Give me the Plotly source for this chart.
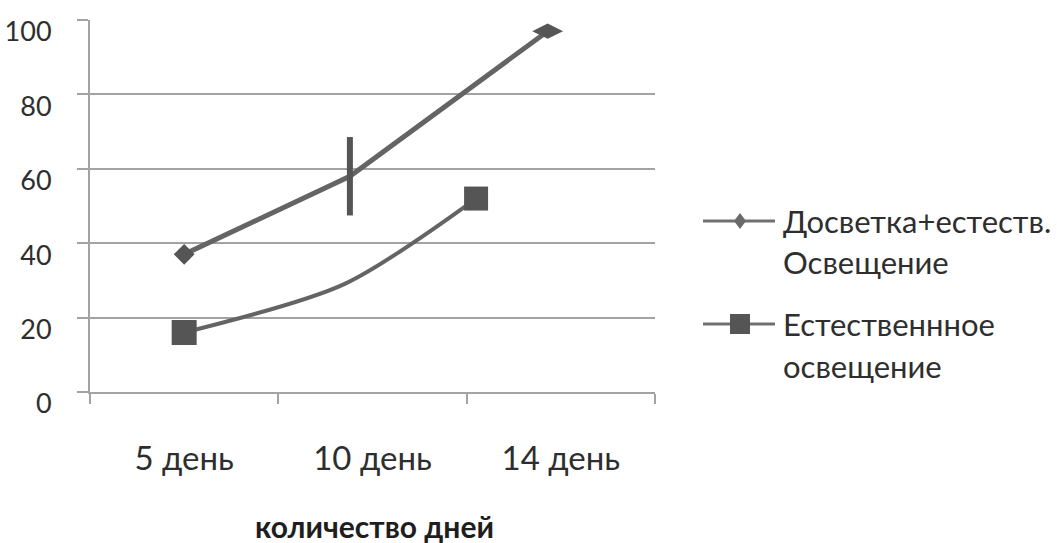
import plotly.graph_objects as go

# Day categories and measured values
days = ["5 день", "10 день", "14 день"]
day_pos = [0, 1, 2]

dosvetka_x = [0.0, 0.88, 1.93]
dosvetka_y = [37, 58, 97]

natural_x = [0.0, 0.85, 1.55]
natural_y = [16, 29, 52]

y_ticks = [0, 20, 40, 60, 80, 100]
series_names = [["Досветка+естеств.", "Освещение"], ["Естественнное", "освещение"]]
x_title = "количество дней"

line_color = "#646464"
marker_color = "#555555"
grid_color = "#a3a3a3"
text_color = "#2e2e2e"
font_family = "Lato, 'Open Sans', sans-serif"

W, H = 1057, 543
L, R, T, B = 90, 655, 20, 392  # plot area edges in pixels


def px_x(px):
    return (px - L) / (R - L)


def px_y(py):
    return (B - py) / (B - T)


fig = go.Figure()

fig.add_trace(go.Scatter(
    x=dosvetka_x, y=dosvetka_y, name=" ".join(series_names[0]),
    mode="lines+markers", showlegend=False,
    line=dict(color=line_color, width=5),
    marker=dict(symbol=["diamond", "line-ns-open", "diamond-wide"],
                size=[16, 56, 22], color=marker_color, opacity=1,
                line=dict(color=marker_color, width=[0, 6, 0])),
))

fig.add_trace(go.Scatter(
    x=natural_x, y=natural_y, name=" ".join(series_names[1]),
    mode="lines+markers", showlegend=False,
    line=dict(color=line_color, width=4, shape="spline", smoothing=0.8),
    marker=dict(symbol="square", size=[25, 0, 24], color=marker_color, opacity=1,
                line=dict(width=0)),
))

# Legend drawn beside the plot: sample line + marker, then two-line label
legend_rows = [(221, 262, "diamond"), (324, 366, "square")]
shapes = []
annotations = []
for (y1, y2, sym), name in zip(legend_rows, series_names):
    shapes.append(dict(type="line", xref="paper", yref="paper",
                       x0=px_x(703), x1=px_x(775), y0=px_y(y1), y1=px_y(y1),
                       line=dict(color="#707070", width=3)))
    if sym == "diamond":
        cx, cy = 740, y1
        path = (f"M {px_x(cx)},{px_y(cy - 8)} L {px_x(cx + 6)},{px_y(cy)} "
                f"L {px_x(cx)},{px_y(cy + 8)} L {px_x(cx - 6)},{px_y(cy)} Z")
        shapes.append(dict(type="path", xref="paper", yref="paper", path=path,
                           fillcolor="#6a6a6a", line=dict(width=0)))
    else:
        shapes.append(dict(type="rect", xref="paper", yref="paper",
                           x0=px_x(730), x1=px_x(750), y0=px_y(y1 + 10), y1=px_y(y1 - 10),
                           fillcolor=marker_color, line=dict(width=0)))
    for yy, txt in zip((y1, y2), name):
        annotations.append(dict(xref="paper", yref="paper", x=px_x(781), y=px_y(yy),
                                xanchor="left", yanchor="middle", showarrow=False,
                                text=txt, font=dict(size=31, color=text_color)))

annotations.append(dict(xref="paper", yref="paper", x=px_x(374), y=px_y(526),
                        xanchor="center", yanchor="middle", showarrow=False,
                        text=f"<b>{x_title}</b>",
                        font=dict(size=30, color="#1e1e1e")))

fig.update_layout(
    width=W, height=H,
    margin=dict(l=L, r=W - R, t=T, b=H - B),
    paper_bgcolor="white", plot_bgcolor="white",
    font=dict(family=font_family, size=34, color=text_color),
    showlegend=False,
    shapes=shapes,
    annotations=annotations,
    xaxis=dict(
        range=[-0.5, 2.5], automargin=False,
        tickmode="array", tickvals=day_pos, ticktext=days,
        ticks="", showgrid=False, zeroline=False,
        showline=True, linecolor=grid_color, linewidth=2,
        tickfont=dict(size=33, color=text_color),
        ticklabelstandoff=36,
        minor=dict(tickvals=[-0.5, 0.5, 1.5, 2.5], ticks="outside",
                   ticklen=10, tickcolor=grid_color, tickwidth=2, showgrid=False),
    ),
    yaxis=dict(
        range=[0, 100], automargin=False,
        tickmode="array", tickvals=y_ticks,
        ticks="outside", ticklen=11, tickcolor=grid_color, tickwidth=2,
        showgrid=True, gridcolor=grid_color, gridwidth=2,
        zeroline=False,
        showline=True, linecolor=grid_color, linewidth=2,
        tickfont=dict(size=27, color=text_color),
        ticklabelstandoff=20,
        ticklabelshift=12,
    ),
)

fig.write_html("out.html")
